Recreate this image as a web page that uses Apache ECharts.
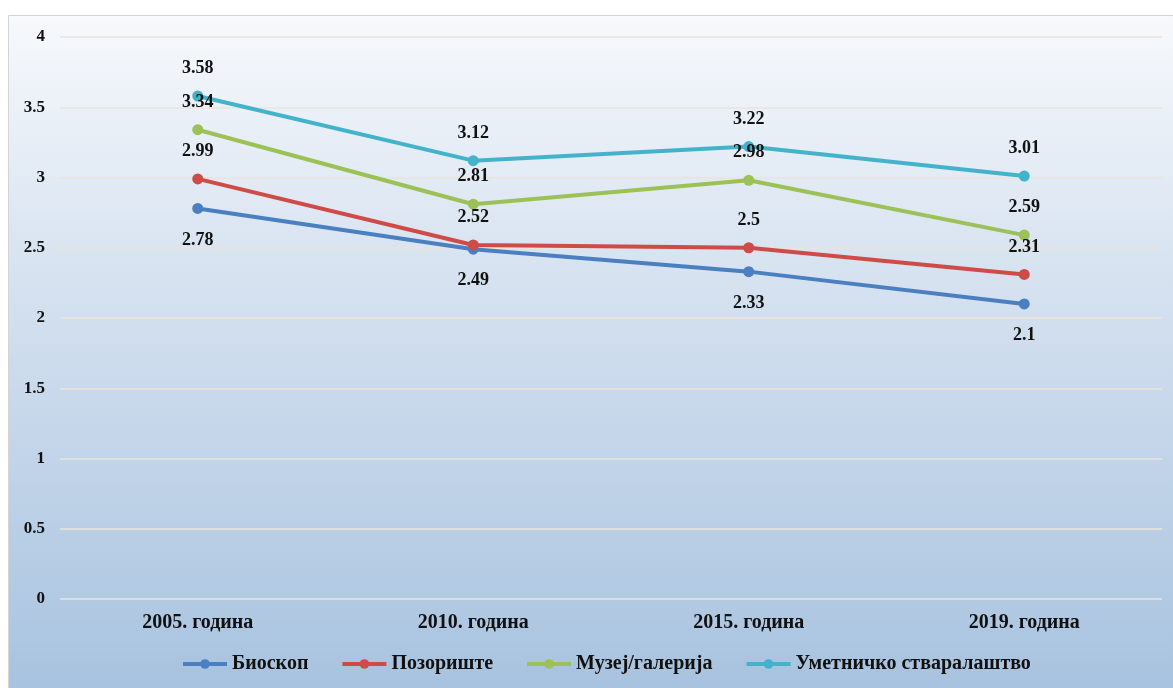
<!DOCTYPE html>
<html><head><meta charset="utf-8">
<script src="https://cdn.jsdelivr.net/npm/echarts@6/dist/echarts.min.js"></script>
<style>html,body{margin:0;padding:0;background:#fff}#c{width:1173px;height:688px}</style>
</head><body><div id="c"></div>
<script>
const categories = ['2005. година', '2010. година', '2015. година', '2019. година'];
const seriesNames = ['Биоскоп', 'Позориште', 'Музеј/галерија', 'Уметничко стваралаштво'];
const bioskop = [2.78, 2.49, 2.33, 2.1];
const pozoriste = [2.99, 2.52, 2.5, 2.31];
const muzej = [3.34, 2.81, 2.98, 2.59];
const umetnicko = [3.58, 3.12, 3.22, 3.01];
const colors = ['#4a7fc1', '#cf4b48', '#9cc156', '#42b3cb'];
const labelPos = ['bottom', 'top', 'top', 'top'];
const labelDist = [17, 13, 13, 13];
const allData = [bioskop, pozoriste, muzej, umetnicko];
const font = '"Liberation Serif", "DejaVu Serif", serif';

const chart = echarts.init(document.getElementById('c'));
chart.setOption({
  animation: false,
  graphic: [{
    type: 'rect', z: -10, silent: true,
    shape: { x: 8.5, y: 15.5, width: 1170, height: 680 },
    style: {
      fill: new echarts.graphic.LinearGradient(0, 0, 0, 1, [
        { offset: 0, color: '#f7f9fc' },
        { offset: 0.35, color: '#d9e4f1' },
        { offset: 1, color: '#a7c2df' }
      ]),
      stroke: '#d4d4d4', lineWidth: 1
    }
  }],
  grid: { left: 60, right: 11, top: 37, bottom: 89, containLabel: false },
  legend: {
    bottom: 9, left: 176, itemGap: 32, itemWidth: 44, itemHeight: 12,
    lineStyle: { width: 4 },
    textStyle: { fontFamily: font, fontWeight: 'bold', fontSize: 20, color: '#111' },
    data: seriesNames
  },
  xAxis: {
    type: 'category', data: categories, boundaryGap: true,
    axisLine: { show: false }, axisTick: { show: false },
    axisLabel: { margin: 14, fontFamily: font, fontWeight: 'bold', fontSize: 20, color: '#111' }
  },
  yAxis: {
    type: 'value', min: 0, max: 4, interval: 0.5,
    axisLine: { show: false }, axisTick: { show: false },
    axisLabel: { margin: 15, fontFamily: font, fontWeight: 'bold', fontSize: 17, color: '#111' },
    splitLine: { lineStyle: { color: '#ebe3da', width: 1.5 } }
  },
  series: allData.map((d, i) => ({
    name: seriesNames[i], type: 'line', data: d,
    symbol: 'circle', symbolSize: 11,
    lineStyle: { width: 4, color: colors[i] },
    itemStyle: { color: colors[i] },
    label: {
      show: true, position: labelPos[i], distance: labelDist[i],
      fontFamily: font, fontWeight: 'bold', fontSize: 18, color: '#111'
    }
  }))
});
</script></body></html>
